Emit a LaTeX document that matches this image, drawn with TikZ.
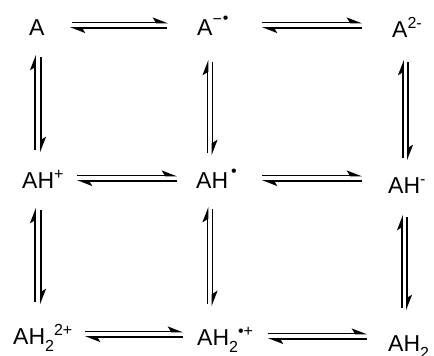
\documentclass[tikz,border=0pt]{standalone}
\usepackage{fontspec}
\setmainfont{Liberation Sans}
\usepackage{tikz}
\usetikzlibrary{arrows.meta,positioning,calc}
\newcommand{\chemsup}[1]{\raisebox{9pt}{\fontsize{16}{16}\selectfont #1}}
\newcommand{\chemsub}[1]{\raisebox{-7pt}{\fontsize{16}{16}\selectfont #1}}
\tikzset{
    species/.style={
        inner sep=0pt,
        anchor=base west,
        font=\fontsize{23}{27}\selectfont
    },
    eqarrow/.style={
        line width=1.7pt,
        -{Stealth[harpoon,length=13pt,width=10pt,inset=3pt]}
    }
}

\begin{document}
\begin{tikzpicture}[x=1pt,y=-1pt]
    \useasboundingbox (0,0) rectangle (434,356);
    % Top row
    \node[species] (A) at (29,35) {A};
    \node[species] (Aan) at (197,35) {A\chemsup{\raisebox{2pt}{−}\raisebox{3pt}{\hspace{1pt}•}}};
    \node[species] (Adi) at (392,37) {A\chemsup{2-}};
    % Middle row
    \node[species] (AHp) at (22,188) {AH\chemsup{+}};
    \node[species] (AHr) at (196,188) {AH\chemsup{\hspace{3pt}\raisebox{3pt}{•}}};
    \node[species] (AHm) at (388,193) {AH\chemsup{-}};
    % Bottom row
    \node[species] (AHHdp) at (13,344) {AH\chemsub{2}\chemsup{2+}};
    \node[species] (AHHrp) at (197,345) {AH\chemsub{2}\chemsup{•+}};
    \node[species] (AHH) at (388,351) {AH\chemsub{2}};

    % Horizontal equilibria
    \draw[eqarrow,shorten <=43pt,shorten >=29pt] ([yshift=12.5pt]A.base west) -- ([yshift=12.5pt]A.base west -| Aan.base west);
    \draw[eqarrow,shorten <=30pt,shorten >=41pt] ([yshift=7pt]A.base west -| Aan.base west) -- ([yshift=7pt]A.base west);
    \draw[eqarrow,shorten <=65pt,shorten >=30pt] ([yshift=12.5pt]Aan.base west) -- ([yshift=12.5pt]Aan.base west -| Adi.base west);
    \draw[eqarrow,shorten <=30pt,shorten >=65pt] ([yshift=7pt]Aan.base west -| Adi.base west) -- ([yshift=7pt]Aan.base west);
    \draw[eqarrow,shorten <=55pt,shorten >=19pt] ([yshift=12.5pt]AHp.base west) -- ([yshift=12.5pt]AHp.base west -| AHr.base west);
    \draw[eqarrow,shorten <=19pt,shorten >=55pt] ([yshift=7pt]AHp.base west -| AHr.base west) -- ([yshift=7pt]AHp.base west);
    \draw[eqarrow,shorten <=66pt,shorten >=26pt] ([yshift=12.5pt]AHr.base west) -- ([yshift=12.5pt]AHr.base west -| AHm.base west);
    \draw[eqarrow,shorten <=26pt,shorten >=66pt] ([yshift=7pt]AHr.base west -| AHm.base west) -- ([yshift=7pt]AHr.base west);
    \draw[eqarrow,shorten <=72pt,shorten >=14pt] ([yshift=12.5pt]AHHdp.base west) -- ([yshift=12.5pt]AHHdp.base west -| AHHrp.base west);
    \draw[eqarrow,shorten <=14pt,shorten >=72pt] ([yshift=7pt]AHHdp.base west -| AHHrp.base west) -- ([yshift=7pt]AHHdp.base west);
    \draw[eqarrow,shorten <=71pt,shorten >=21pt] ([yshift=11.5pt]AHHrp.base west) -- ([yshift=11.5pt]AHHrp.base west -| AHH.base west);
    \draw[eqarrow,shorten <=21pt,shorten >=71pt] ([yshift=6pt]AHHrp.base west -| AHH.base west) -- ([yshift=6pt]AHHrp.base west);

    % Vertical equilibria
    \draw[eqarrow,shorten <=38pt,shorten >=20pt] ([xshift=6pt]A.base west |- AHp.base) -- ([xshift=6pt]A.base west);
    \draw[eqarrow,shorten <=22pt,shorten >=36pt] ([xshift=12pt]A.base west) -- ([xshift=12pt]A.base west |- AHp.base);
    \draw[eqarrow,shorten <=42pt,shorten >=20pt] ([xshift=13pt]AHp.base west |- AHHdp.base) -- ([xshift=13pt]AHp.base west);
    \draw[eqarrow,shorten <=22pt,shorten >=40pt] ([xshift=19pt]AHp.base west) -- ([xshift=19pt]AHp.base west |- AHHdp.base);
    \draw[eqarrow,shorten <=35pt,shorten >=25pt] ([xshift=10.5pt]Aan.base west |- AHr.base) -- ([xshift=10.5pt]Aan.base west);
    \draw[eqarrow,shorten <=27pt,shorten >=33pt] ([xshift=15.5pt]Aan.base west) -- ([xshift=15.5pt]Aan.base west |- AHr.base);
    \draw[eqarrow,shorten <=41pt,shorten >=19pt] ([xshift=11.5pt]AHr.base west |- AHHrp.base) -- ([xshift=11.5pt]AHr.base west);
    \draw[eqarrow,shorten <=21pt,shorten >=39pt] ([xshift=16.5pt]AHr.base west) -- ([xshift=16.5pt]AHr.base west |- AHHrp.base);
    \draw[eqarrow,shorten <=35pt,shorten >=23pt] ([xshift=11pt]Adi.base west |- AHm.base) -- ([xshift=11pt]Adi.base west);
    \draw[eqarrow,shorten <=25pt,shorten >=33pt] ([xshift=16pt]Adi.base west) -- ([xshift=16pt]Adi.base west |- AHm.base);
    \draw[eqarrow,shorten <=43pt,shorten >=22pt] ([xshift=14pt]AHm.base west |- AHH.base) -- ([xshift=14pt]AHm.base west);
    \draw[eqarrow,shorten <=24pt,shorten >=41pt] ([xshift=19pt]AHm.base west) -- ([xshift=19pt]AHm.base west |- AHH.base);
\end{tikzpicture}
\end{document}
